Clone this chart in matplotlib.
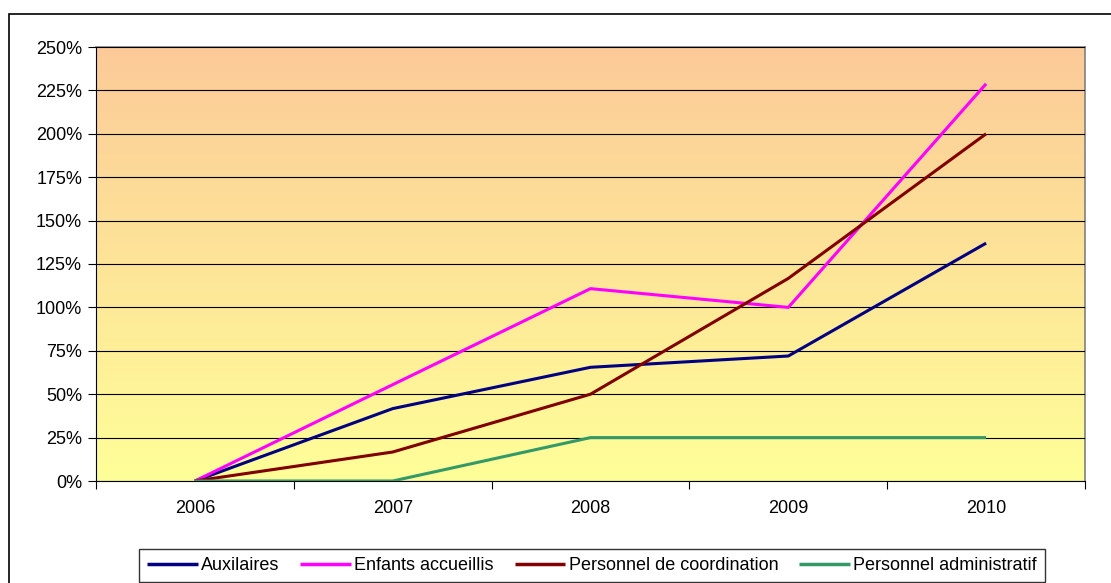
import numpy as np
import matplotlib.pyplot as plt
from matplotlib.patches import Rectangle
from matplotlib.colors import LinearSegmentedColormap

plt.rcParams['font.family'] = ['Liberation Sans', 'DejaVu Sans']

years = ['2006', '2007', '2008', '2009', '2010']
auxilaires = [0, 41.7, 65.5, 72, 137]
enfants = [0, 55.5, 110.8, 100, 228.8]
coordination = [0, 16.7, 50, 116.7, 200]
administratif = [0, 0, 25, 25, 25]

series = [
    ('Auxilaires', auxilaires, '#000080'),
    ('Enfants accueillis', enfants, '#FF00FF'),
    ('Personnel de coordination', coordination, '#800000'),
    ('Personnel administratif', administratif, '#339966'),
]

fig = plt.figure(figsize=(11.11, 5.83), dpi=100)
W, H = 1111, 583
ax = fig.add_axes([96 / W, 1 - 481 / H, 989 / W, 434 / H])

# outer chart frame
fig.patches.append(Rectangle((9 / W, -0.05), 1.2, 1 - 14 / H + 0.05, transform=fig.transFigure,
                             fill=False, edgecolor='#000000', linewidth=1.2, zorder=0))

x = np.arange(len(years))

# gradient plot area
grad = LinearSegmentedColormap.from_list('bg', ['#FFFF99', '#FCCA98'])
ax.imshow(np.linspace(0, 1, 256).reshape(-1, 1), cmap=grad, aspect='auto',
          extent=[-0.5, len(years) - 0.5, 0, 250], origin='lower', zorder=0)

for label, vals, col in series:
    ax.plot(x, vals, color=col, linewidth=2.2, label=label, zorder=3, solid_capstyle='butt')

ax.set_xlim(-0.5, len(years) - 0.5)
ax.set_ylim(0, 250)
ax.set_yticks(np.arange(0, 251, 25))
ax.set_yticklabels([f'{v}%' for v in range(0, 251, 25)], fontsize=13)
ax.set_xticks(x)
ax.set_xticklabels(years, fontsize=13)
ax.set_xticks(np.arange(-0.5, len(years), 1), minor=True)
ax.tick_params(axis='x', which='major', length=0, pad=14)
ax.tick_params(axis='x', which='minor', length=6, direction='out', width=0.8)
ax.tick_params(axis='y', length=6, direction='out', width=0.8, pad=4)
ax.yaxis.grid(True, color='#000000', linewidth=0.8, zorder=1)
ax.set_axisbelow(False)

for s in ['top', 'right']:
    ax.spines[s].set_color('#808080')
    ax.spines[s].set_linewidth(1.2)
for s in ['left', 'bottom']:
    ax.spines[s].set_color('#000000')
    ax.spines[s].set_linewidth(0.8)

leg = fig.legend(loc='lower center', bbox_to_anchor=(592 / W, 1 / H), ncol=4, fontsize=13,
                 frameon=True, fancybox=False, edgecolor='#000000', handlelength=2.8,
                 handletextpad=0.2, columnspacing=1.15, borderpad=0.45, borderaxespad=0)
leg.get_frame().set_linewidth(1.0)
for line in leg.get_lines():
    line.set_linewidth(2.5)

fig.savefig('out.png', dpi=100)
